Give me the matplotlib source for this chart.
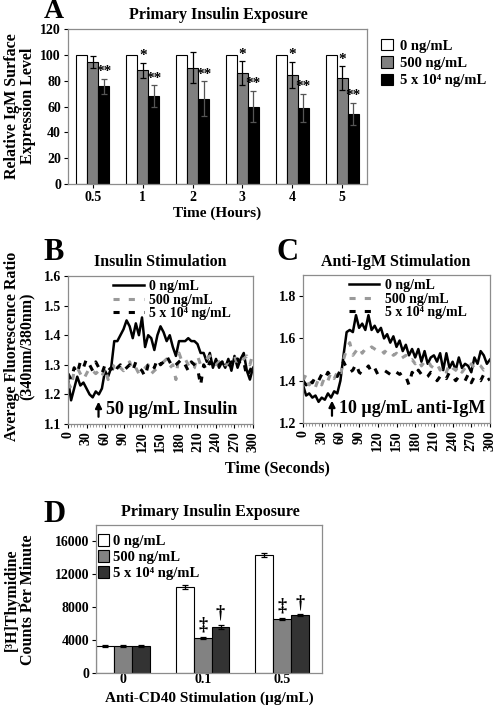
import numpy as np
import matplotlib
matplotlib.use("Agg")
import matplotlib.pyplot as plt
from matplotlib.patches import Patch
from matplotlib.lines import Line2D
from matplotlib.ticker import FormatStrFormatter

plt.rcParams['font.family'] = ['Liberation Serif', 'DejaVu Serif']
plt.rcParams['font.weight'] = 'bold'
plt.rcParams['axes.labelweight'] = 'bold'

# --- Panel A: IgM surface expression ---
horas = ['0.5', '1', '2', '3', '4', '5']
a_0 = [100, 100, 100, 100, 100, 100]
a_500 = [94.5, 88, 90, 86, 84.5, 82]
a_5e4 = [75.5, 68, 66, 60, 59, 54.5]
a_err_500 = [4.5, 6, 12, 9, 10, 9]
a_err_5e4 = [6, 8.5, 13.5, 12, 11, 8.5]
a_sig_500 = ['', '*', '', '*', '*', '*']
a_sig_5e4 = ['**', '**', '**', '**', '**', '**']

# --- Panels B y C: calcio (cada 5 s) ---
tiempo = list(range(0, 301, 5))
b_0 = [1.25, 1.18, 1.22, 1.26, 1.23, 1.24, 1.22, 1.20, 1.19, 1.21,
       1.20, 1.22, 1.28, 1.26, 1.29, 1.38, 1.38, 1.40, 1.42, 1.45,
       1.43, 1.39, 1.44, 1.40, 1.46, 1.36, 1.40, 1.39, 1.35, 1.40,
       1.43, 1.41, 1.38, 1.40, 1.36, 1.33, 1.38, 1.38, 1.38, 1.39,
       1.38, 1.38, 1.37, 1.34, 1.34, 1.31, 1.34, 1.29, 1.32, 1.29,
       1.31, 1.29, 1.32, 1.28, 1.33, 1.29, 1.32, 1.34, 1.28, 1.25,
       1.29]
b_500 = [1.24, 1.22, 1.28, 1.29, 1.27, 1.25, 1.27, 1.29, 1.28, 1.27,
         1.28, 1.26, 1.29, 1.25, 1.27, 1.30, 1.31, 1.29, 1.28, 1.30,
         1.31, 1.28, 1.29, 1.27, 1.27, 1.29, 1.30, 1.27, 1.28, 1.29,
         1.30, 1.31, 1.32, 1.29, 1.30, 1.25, 1.34, 1.31, 1.32, 1.30,
         1.28, 1.29, 1.33, 1.30, 1.31, 1.32, 1.33, 1.31, 1.30, 1.31,
         1.32, 1.30, 1.30, 1.31, 1.33, 1.30, 1.31, 1.32, 1.33, 1.30,
         1.34]
b_5e4 = [1.27, 1.25, 1.29, 1.27, 1.31, 1.29, 1.32, 1.30, 1.28, 1.31,
         1.29, 1.27, 1.30, 1.28, 1.29, 1.27, 1.29, 1.30, 1.28, 1.29,
         1.30, 1.28, 1.31, 1.29, 1.28, 1.26, 1.30, 1.31, 1.29, 1.32,
         1.30, 1.31, 1.33, 1.31, 1.29, 1.30, 1.31, 1.32, 1.30, 1.28,
         1.31, 1.30, 1.29, 1.23, 1.30, 1.28, 1.31, 1.30, 1.29, 1.30,
         1.31, 1.30, 1.29, 1.31, 1.30, 1.32, 1.30, 1.31, 1.26, 1.28,
         1.30]
c_0 = [1.38, 1.33, 1.34, 1.32, 1.33, 1.30, 1.32, 1.31, 1.34, 1.32,
       1.35, 1.34, 1.40, 1.52, 1.63, 1.64, 1.63, 1.71, 1.65, 1.67,
       1.64, 1.71, 1.64, 1.66, 1.63, 1.65, 1.60, 1.62, 1.58, 1.61,
       1.56, 1.59, 1.54, 1.57, 1.52, 1.55, 1.51, 1.55, 1.49, 1.54,
       1.48, 1.51, 1.52, 1.49, 1.53, 1.45, 1.53, 1.46, 1.49, 1.45,
       1.51, 1.46, 1.48, 1.47, 1.44, 1.51, 1.48, 1.54, 1.52, 1.48,
       1.50]
c_500 = [1.40, 1.43, 1.38, 1.40, 1.37, 1.41, 1.38, 1.42, 1.40, 1.44,
         1.41, 1.44, 1.42, 1.50, 1.55, 1.58, 1.52, 1.54, 1.56, 1.53,
         1.55, 1.54, 1.56, 1.55, 1.54, 1.55, 1.53, 1.55, 1.54, 1.52,
         1.53, 1.50, 1.51, 1.52, 1.49, 1.50, 1.48, 1.50, 1.47, 1.49,
         1.50, 1.47, 1.46, 1.48, 1.45, 1.47, 1.44, 1.48, 1.46, 1.45,
         1.47, 1.44, 1.46, 1.45, 1.48, 1.46, 1.48, 1.47, 1.45, 1.46,
         1.45]
c_5e4 = [1.40, 1.38, 1.41, 1.39, 1.42, 1.40, 1.43, 1.41, 1.44, 1.42,
         1.43, 1.42, 1.45, 1.49, 1.46, 1.44, 1.45, 1.48, 1.44, 1.43,
         1.45, 1.47, 1.44, 1.46, 1.43, 1.44, 1.45, 1.44, 1.43, 1.45,
         1.44, 1.43, 1.44, 1.42, 1.38, 1.44, 1.42, 1.45, 1.43, 1.41,
         1.42, 1.44, 1.43, 1.40, 1.42, 1.43, 1.41, 1.44, 1.42, 1.40,
         1.42, 1.41, 1.40, 1.43, 1.39, 1.42, 1.41, 1.40, 1.43, 1.40,
         1.41]

# --- Panel D: timidina ---
cd40 = ['0', '0.1', '0.5']
d_0 = [3250, 10450, 14350]
d_500 = [3250, 4250, 6600]
d_5e4 = [3250, 5600, 7000]
d_err_0 = [120, 200, 200]
d_err_500 = [120, 120, 100]
d_err_5e4 = [120, 250, 120]
d_sig_500 = ['', '\u2021', '\u2021']
d_sig_5e4 = ['', '\u2020', '\u2020']

etiquetas = ['0 ng/mL', '500 ng/mL', '5 x 10\u2074 ng/mL']

W, H = 496, 707
fig = plt.figure(figsize=(W / 100, H / 100), dpi=100)


def ejes(l, t, r, b):
    return fig.add_axes([l / W, 1 - b / H, (r - l) / W, (b - t) / H])


def texto(x, y, s, **kw):
    fig.text(x / W, 1 - y / H, s, **kw)


def marco(ax):
    for sp in ax.spines.values():
        sp.set_color('#8c8c8c')
        sp.set_linewidth(0.9)
    ax.tick_params(direction='out', length=3, width=0.8, labelsize=10, pad=2)


# ----- A -----
axA = ejes(68, 29, 367, 184)
x = np.arange(len(horas))
w = 0.22
axA.bar(x - w, a_0, w, color='white', edgecolor='black', lw=0.8)
axA.bar(x, a_500, w, color='#808080', edgecolor='black', lw=0.8,
        yerr=a_err_500, capsize=2.5, error_kw=dict(lw=0.9, capthick=0.9))
axA.bar(x + w, a_5e4, w, color='black', edgecolor='black', lw=0.8,
        yerr=a_err_5e4, capsize=2.5, error_kw=dict(lw=0.9, capthick=0.9, ecolor='#555555'))
for i in range(len(horas)):
    if a_sig_500[i]:
        axA.text(x[i], a_500[i] + a_err_500[i] + 0.5, a_sig_500[i], ha='center', va='bottom', fontsize=11)
    axA.text(x[i] + w, a_5e4[i] + a_err_5e4[i] + 0.5, a_sig_5e4[i], ha='center', va='bottom', fontsize=11)
axA.set_xlim(-0.5, 5.5)
axA.set_ylim(0, 120)
axA.set_yticks(range(0, 121, 20))
axA.set_xticks(x)
axA.set_xticklabels(horas)
axA.tick_params(axis='x', length=0)
marco(axA)
axA.set_xlabel('Time (Hours)', fontsize=11, labelpad=2)
texto(20, 106, 'Relative IgM Surface\nExpression Level', rotation=90, ha='center', va='center',
      fontsize=11.5, linespacing=1.0)
texto(218, 15, 'Primary Insulin Exposure', ha='center', va='center', fontsize=11.5)
texto(44, 12, 'A', ha='left', va='center', fontsize=20)
hA = [Patch(facecolor=c, edgecolor='black', lw=0.8) for c in ['white', '#808080', 'black']]
fig.legend(hA, etiquetas, loc='upper left', bbox_to_anchor=(368 / W, 1 - 26 / H), frameon=False,
           fontsize=10.5, handlelength=0.8, handleheight=0.8, handletextpad=0.5, labelspacing=0.25)

# ----- B y C -----
estilos = [dict(color='black', lw=1.8, ls='-'),
           dict(color='#9a9a9a', lw=2.2, ls=(0, (2.0, 3.0))),
           dict(color='black', lw=2.2, ls=(0, (2.0, 3.0)))]


def panel_calcio(ax, series, ylo, yhi, ystep, nota, xflecha):
    for s, st in zip(series, estilos):
        ax.plot(tiempo, s, **st)
    ax.set_xlim(0, 300)
    ax.set_ylim(ylo, yhi)
    ax.set_yticks(np.arange(ylo, yhi + 1e-9, ystep))
    ax.yaxis.set_major_formatter(FormatStrFormatter('%.1f'))
    ax.set_xticks(range(0, 301, 30))
    ax.set_xticks(tiempo, minor=True)
    ax.tick_params(axis='x', rotation=90)
    marco(ax)
    ax.tick_params(which='minor', length=2, width=0.6, color='#8c8c8c')
    handles = [Line2D([], [], **st) for st in estilos]
    ax.legend(handles, etiquetas, loc='upper left', bbox_to_anchor=(0.2, 1.03), frameon=False,
              fontsize=10, handlelength=2.2, handletextpad=0.4, labelspacing=0.05, borderaxespad=0.2)
    ax.annotate('', xy=(xflecha, 0.17), xytext=(xflecha, 0.03), xycoords='axes fraction',
                arrowprops=dict(arrowstyle='-|>', lw=1.6, color='black', mutation_scale=9))
    ax.text(xflecha + 0.04, 0.1, nota, transform=ax.transAxes, ha='left', va='center', fontsize=13)


axB = ejes(68, 276, 253, 424)
panel_calcio(axB, [b_0, b_500, b_5e4], 1.1, 1.6, 0.1, '50 \u00b5g/mL Insulin', 0.165)
axC = ejes(303, 275, 490, 423)
panel_calcio(axC, [c_0, c_500, c_5e4], 1.2, 1.9, 0.2, '10 \u00b5g/mL anti-IgM', 0.155)
axC.set_yticks([1.2, 1.4, 1.6, 1.8])

texto(160, 262, 'Insulin Stimulation', ha='center', va='center', fontsize=11.5)
texto(396, 262, 'Anti-IgM Stimulation', ha='center', va='center', fontsize=11.5)
texto(43, 252, 'B', ha='left', va='center', fontsize=22)
texto(277, 252, 'C', ha='left', va='center', fontsize=22)
texto(20, 346, 'Average Fluorescence Ratio\n(340nm/380nm)', rotation=90, ha='center', va='center',
      fontsize=11.5, linespacing=1.0)
texto(277, 468, 'Time (Seconds)', ha='center', va='center', fontsize=11.5)

# ----- D -----
axD = ejes(96, 525, 322, 673)
xd = np.arange(len(cd40))
wd = 0.225
ek = dict(lw=0.9, capthick=0.9)
axD.bar(xd - wd, d_0, wd, color='white', edgecolor='black', lw=0.8, yerr=d_err_0, capsize=2.5, error_kw=ek)
axD.bar(xd, d_500, wd, color='#828282', edgecolor='black', lw=0.8, yerr=d_err_500, capsize=2.5, error_kw=ek)
axD.bar(xd + wd, d_5e4, wd, color='#333333', edgecolor='black', lw=0.8, yerr=d_err_5e4, capsize=2.5, error_kw=ek)
for i in range(len(cd40)):
    if d_sig_500[i]:
        axD.text(xd[i], d_500[i] + d_err_500[i] + 400, d_sig_500[i], ha='center', va='bottom', fontsize=13)
    if d_sig_5e4[i]:
        axD.text(xd[i] + wd, d_5e4[i] + d_err_5e4[i] + 400, d_sig_5e4[i], ha='center', va='bottom', fontsize=13)
axD.set_xlim(-0.34, 2.5)
axD.set_ylim(0, 18000)
axD.set_yticks(range(0, 16001, 4000))
axD.set_xticks(xd)
axD.set_xticklabels(cd40)
marco(axD)
axD.tick_params(axis='x', length=0, pad=0, labelsize=10)
hD = [Patch(facecolor=c, edgecolor='black', lw=0.8) for c in ['white', '#828282', '#333333']]
axD.legend(hD, etiquetas, loc='upper left', bbox_to_anchor=(-0.05, 1.03), frameon=False,
           fontsize=10.5, handlelength=0.8, handleheight=0.9, handletextpad=0.25, labelspacing=0.15)
texto(20, 600, '[\u00b3H]Thymidine\nCounts Per Minute', rotation=90, ha='center', va='center',
      fontsize=11.5, linespacing=1.0)
texto(210, 512, 'Primary Insulin Exposure', ha='center', va='center', fontsize=11.5)
texto(43, 514, 'D', ha='left', va='center', fontsize=22)
texto(209, 698, 'Anti-CD40 Stimulation (\u00b5g/mL)', ha='center', va='center', fontsize=11)

fig.savefig('out.png', dpi=100)
